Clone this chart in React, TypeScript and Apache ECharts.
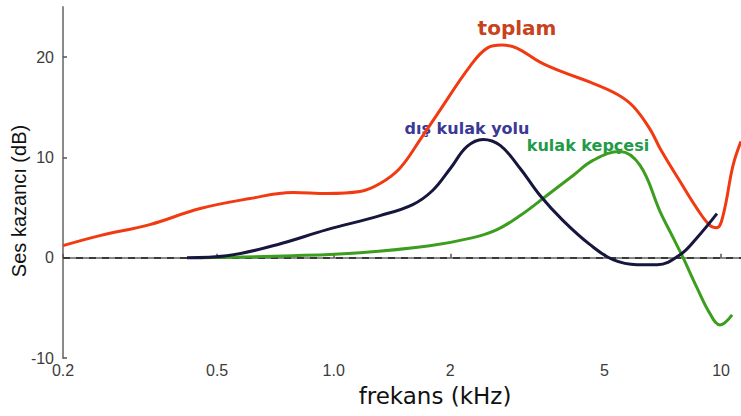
import React, { useEffect, useRef } from "react";
import * as echarts from "echarts";

// Frequencies in kHz, gain in dB
const toplamFreq = [0.2, 0.249, 0.335, 0.452, 0.608, 0.785, 0.961, 1.169, 1.317, 1.48, 1.68, 1.85, 2.25, 2.49, 2.72, 2.97, 3.41, 3.91, 4.59, 5.39, 5.93, 6.56, 6.96, 7.84, 8.67, 9.37, 9.76, 10.12, 10.74, 11.26];
const toplamGain = [1.2, 2.2, 3.3, 4.9, 5.9, 6.5, 6.4, 6.6, 7.4, 8.9, 11.9, 14.3, 19.1, 20.9, 21.2, 20.9, 19.5, 18.5, 17.5, 16.3, 15.1, 12.8, 10.9, 7.6, 4.9, 3.2, 3.0, 4.2, 9.2, 11.6];

const kulakYoluFreq = [0.418, 0.53, 0.714, 0.961, 1.317, 1.6, 1.8, 2.0, 2.21, 2.43, 2.69, 3.03, 3.41, 3.91, 4.59, 5.26, 6.07, 6.84, 7.84, 8.67, 9.76];
const kulakYoluGain = [0, 0.2, 1.3, 2.8, 4.2, 5.3, 6.7, 8.9, 11.1, 11.8, 11.2, 8.9, 6.2, 3.7, 1.3, -0.2, -0.7, -0.7, 0.3, 2.0, 4.4];

const kepceFreq = [0.452, 0.785, 1.169, 1.77, 2.29, 2.64, 3.03, 3.55, 4.15, 4.67, 5.48, 6.18, 6.96, 7.52, 7.98, 8.67, 9.37, 9.94, 10.68];
const kepceGain = [0, 0.2, 0.5, 1.2, 2.0, 2.8, 4.2, 6.2, 8.2, 9.7, 10.6, 9.2, 4.6, 2.0, 0, -3.0, -5.6, -6.7, -5.7];

const xTicks = [0.2, 0.5, 1, 2, 5, 10];
const yTicks = [-10, 0, 10, 20];

const seriesLabels = ["toplam", "dış kulak yolu", "kulak kepçesi"];
const xName = "frekans (kHz)";
const yName = "Ses kazancı (dB)";

const zip = (a: number[], b: number[]) => a.map((v, i) => [v, b[i]]);

export default function App() {
  const ref = useRef<HTMLDivElement>(null);
  useEffect(() => {
    if (!ref.current) return;
    const chart = echarts.init(ref.current, undefined, { renderer: "svg" });
    const tickFont = { fontFamily: "Liberation Sans", fontSize: 16, color: "#3c3c3c" };
    chart.setOption({
      animation: false,
      backgroundColor: "#ffffff",
      grid: { left: 63, right: 0, top: 7, bottom: 58 },
      xAxis: {
        type: "log",
        logBase: 10,
        min: 0.2,
        max: 11.26,
        axisLine: { lineStyle: { color: "#8a8a8a", width: 2 } },
        axisTick: { inside: true, length: 4, customValues: xTicks, lineStyle: { color: "#555", width: 1.5 } },
        axisLabel: {
          ...tickFont,
          margin: 4,
          customValues: xTicks,
          formatter: (v: number) => {
            const n = Number(Number(v).toPrecision(3));
            return n === 1 ? "1.0" : String(n);
          },
        },
        splitLine: { show: false },
        minorTick: { show: false },
      },
      yAxis: {
        type: "value",
        min: -10,
        max: 25,
        axisLine: { show: true, lineStyle: { color: "#8a8a8a", width: 2 } },
        axisTick: { show: true, inside: true, length: 4, customValues: yTicks, lineStyle: { color: "#555", width: 1.5 } },
        axisLabel: { ...tickFont, margin: 9, customValues: yTicks },
        splitLine: { show: false },
      },
      series: [
        {
          name: seriesLabels[0],
          type: "line",
          data: zip(toplamFreq, toplamGain),
          smooth: 0.4,
          showSymbol: false,
          lineStyle: { color: "#f23a12", width: 3 },
          z: 3,
          markLine: {
            silent: true,
            symbol: "none",
            label: { show: false },
            lineStyle: { color: "#3a3a3a", type: [7, 6], width: 2 },
            data: [{ yAxis: 0 }],
            z: 1,
          },
        },
        {
          name: seriesLabels[1],
          type: "line",
          data: zip(kulakYoluFreq, kulakYoluGain),
          smooth: 0.4,
          showSymbol: false,
          lineStyle: { color: "#16163e", width: 3 },
          z: 4,
        },
        {
          name: seriesLabels[2],
          type: "line",
          data: zip(kepceFreq, kepceGain),
          smooth: 0.4,
          showSymbol: false,
          lineStyle: { color: "#3c9e1e", width: 3 },
          z: 3,
        },
      ],
      graphic: [
        {
          type: "text",
          x: 517,
          y: 28,
          style: {
            text: seriesLabels[0],
            fill: "#c8421c",
            font: "bold 20px 'DejaVu Sans'",
            align: "center",
            verticalAlign: "middle",
          },
        },
        {
          type: "text",
          x: 467,
          y: 128,
          style: {
            text: seriesLabels[1],
            fill: "#3a3a96",
            font: "bold 16px 'DejaVu Sans'",
            align: "center",
            verticalAlign: "middle",
          },
        },
        {
          type: "text",
          x: 588,
          y: 145,
          style: {
            text: seriesLabels[2],
            fill: "#229a48",
            font: "bold 16px 'DejaVu Sans'",
            align: "center",
            verticalAlign: "middle",
          },
        },
        {
          type: "text",
          x: 435,
          y: 396,
          style: {
            text: xName,
            fill: "#111",
            font: "23px 'DejaVu Sans'",
            align: "center",
            verticalAlign: "middle",
          },
        },
        {
          type: "text",
          x: 19,
          y: 201,
          rotation: Math.PI / 2,
          style: {
            text: yName,
            fill: "#111",
            font: "20px 'Liberation Sans'",
            align: "center",
            verticalAlign: "middle",
          },
        },
      ],
    });
    return () => chart.dispose();
  }, []);
  return (
    <div
      ref={ref}
      style={{ position: "absolute", left: 0, top: 0, width: 741, height: 416, background: "#fff" }}
    />
  );
}
